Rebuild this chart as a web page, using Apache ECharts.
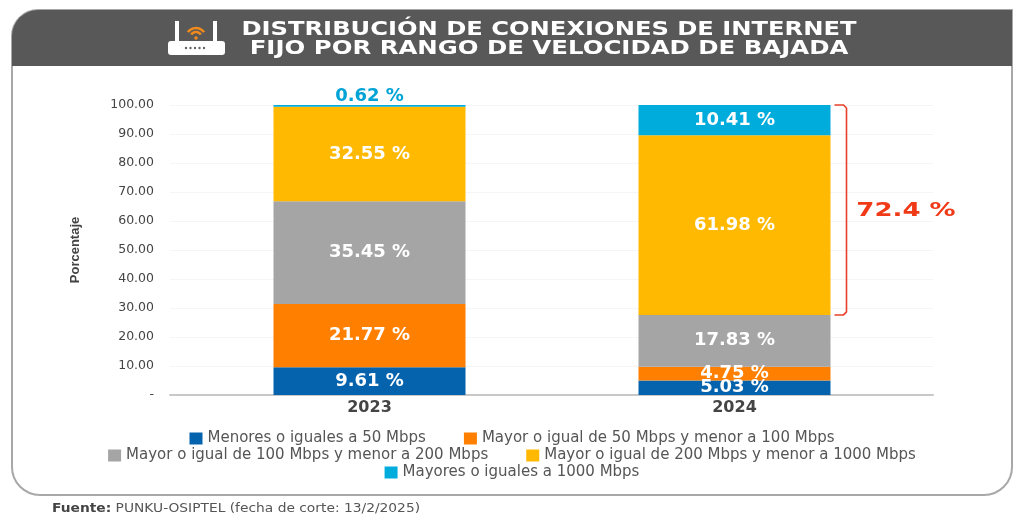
<!DOCTYPE html>
<html lang="es">
<head>
<meta charset="UTF-8">
<title>Distribución de conexiones</title>
<script src="https://cdn.jsdelivr.net/npm/echarts@6/dist/echarts.min.js"></script>
<style>
  html, body { margin: 0; padding: 0; background: #fff; }
  #main { width: 1024px; height: 525px; }
</style>
</head>
<body>
<div id="main"></div>
<script>
var years = ['2023', '2024'];
var seriesNames = [
  'Menores o iguales a 50 Mbps',
  'Mayor o igual de 50 Mbps y menor a 100 Mbps',
  'Mayor o igual de 100 Mbps y menor a 200 Mbps',
  'Mayor o igual de 200 Mbps y menor a 1000 Mbps',
  'Mayores o iguales a 1000 Mbps'
];
var menos50 = [9.61, 5.03];
var de50a100 = [21.77, 4.75];
var de100a200 = [35.45, 17.83];
var de200a1000 = [32.55, 61.98];
var desde1000 = [0.62, 10.41];
var yTicks = ['-', '10.00', '20.00', '30.00', '40.00', '50.00', '60.00', '70.00', '80.00', '90.00', '100.00'];
var colors = ['#0563ad', '#ff7f00', '#a5a5a5', '#ffb900', '#00acdc'];
var bracketTop = 100;
var bracketBottom = 27.61;
var bracketText = '72.4 %';

var FONT = '"DejaVu Sans"';
var chart = echarts.init(document.getElementById('main'));

function barSeries(i, values) {
  return {
    name: seriesNames[i],
    type: 'bar',
    stack: 'total',
    xAxisIndex: 0,
    yAxisIndex: 0,
    barWidth: 192,
    data: values,
    itemStyle: { color: colors[i] },
    label: {
      show: true,
      position: 'inside',
      color: '#fff',
      fontFamily: FONT,
      fontWeight: 'bold',
      fontSize: 18,
      formatter: function (p) { return p.value.toFixed(2) + ' %'; }
    }
  };
}

var series = [
  barSeries(0, menos50),
  barSeries(1, de50a100),
  barSeries(2, de100a200),
  barSeries(3, de200a1000),
  barSeries(4, desde1000)
];
// la etiqueta de 0.62 va encima de la barra, en celeste
series[4].data = [
  { value: desde1000[0], label: { position: 'top', distance: 0, color: '#00a3d6' } },
  desde1000[1]
];

function legendRow(names, top) {
  return {
    data: names,
    top: top,
    left: 'center',
    itemWidth: 13,
    itemHeight: 12,
    itemGap: 38,
    icon: 'rect',
    textStyle: { fontFamily: FONT, fontSize: 15, color: '#555' }
  };
}

chart.setOption({
  animation: false,
  backgroundColor: '#fff',
  // grid 0: barras; grid 1: eje y lineas, algo mas ancho que las barras
  grid: [
    { left: 187, width: 730, top: 105, height: 290 },
    { left: 170, width: 763, top: 105, height: 290 }
  ],
  xAxis: [
    {
      type: 'category', gridIndex: 0, data: years,
      axisTick: { show: false }, axisLine: { show: false },
      axisLabel: { fontFamily: FONT, fontWeight: 'bold', fontSize: 16, color: '#444', margin: 5 }
    },
    {
      type: 'category', gridIndex: 1, data: [],
      axisTick: { show: false }, axisLabel: { show: false },
      axisLine: { lineStyle: { color: '#c8c8c8', width: 2 } }
    }
  ],
  yAxis: [
    { type: 'value', gridIndex: 0, min: 0, max: 100, interval: 10, show: false },
    {
      type: 'value', gridIndex: 1, min: 0, max: 100, interval: 10,
      name: 'Porcentaje',
      nameLocation: 'middle',
      nameGap: 88,
      nameTextStyle: { fontFamily: '"Liberation Sans Narrow", "Liberation Sans"', fontWeight: 'bold', fontSize: 13, color: '#444' },
      axisLine: { show: false },
      axisTick: { show: false },
      axisLabel: {
        fontFamily: FONT, fontSize: 12.5, color: '#444', margin: 16,
        formatter: function (v) { return yTicks[Math.round(v / 10)]; }
      },
      splitLine: { lineStyle: { color: '#f5f5f5', width: 1 } }
    }
  ],
  legend: [
    legendRow(seriesNames.slice(0, 2), 426),
    legendRow(seriesNames.slice(2, 4), 443),
    legendRow(seriesNames.slice(4), 460)
  ],
  series: series
});

// marco, cabecera, icono y pie
var bx = 369.5 + 365 + 96 + 4;
var yTop = chart.convertToPixel({ yAxisIndex: 0 }, bracketTop);
var yBot = chart.convertToPixel({ yAxisIndex: 0 }, bracketBottom);

function wideText(text, x, y, scale, font, fill, align) {
  return {
    type: 'text', z: 5, x: x, y: y, scaleX: scale,
    style: { x: 0, y: 0, text: text, fill: fill, font: font, align: align, verticalAlign: 'middle' }
  };
}

var routerDots = [186, 190.5, 195, 199.5, 204].map(function (cx) {
  return { type: 'circle', z: 6, shape: { cx: cx, cy: 48, r: 1.2 }, style: { fill: '#666' } };
});

chart.setOption({
  graphic: [
    { type: 'rect', z: -10, shape: { x: 12, y: 10, width: 1000, height: 485, r: [26, 0, 28, 28] }, style: { fill: '#fff', stroke: '#a8a8a8', lineWidth: 2 } },
    { type: 'rect', z: -9, shape: { x: 12, y: 10, width: 1000, height: 56, r: [26, 0, 0, 0] }, style: { fill: '#585858' } },
    wideText('DISTRIBUCIÓN DE CONEXIONES DE INTERNET', 549, 30, 1.21, 'bold 20px "DejaVu Sans"', '#fff', 'center'),
    wideText('FIJO POR RANGO DE VELOCIDAD DE BAJADA', 549, 48.5, 1.22, 'bold 20px "DejaVu Sans"', '#fff', 'center'),
    // router
    { type: 'rect', z: 5, shape: { x: 168, y: 41, width: 57, height: 14, r: 3 }, style: { fill: '#fff' } },
    { type: 'rect', z: 5, shape: { x: 175, y: 21, width: 4, height: 22 }, style: { fill: '#fff' } },
    { type: 'rect', z: 5, shape: { x: 213, y: 21, width: 4, height: 22 }, style: { fill: '#fff' } },
    { type: 'arc', z: 5, shape: { cx: 196, cy: 38, r: 10, startAngle: -Math.PI * 0.8, endAngle: -Math.PI * 0.2 }, style: { stroke: '#f08a1d', lineWidth: 2.5, fill: 'none' } },
    { type: 'arc', z: 5, shape: { cx: 196, cy: 38, r: 6, startAngle: -Math.PI * 0.8, endAngle: -Math.PI * 0.2 }, style: { stroke: '#f08a1d', lineWidth: 2.5, fill: 'none' } },
    { type: 'circle', z: 5, shape: { cx: 196, cy: 38, r: 1.8 }, style: { fill: '#f08a1d' } }
  ].concat(routerDots).concat([
    // llave roja
    {
      type: 'polyline', z: 5,
      shape: { points: [[bx, yTop], [bx + 9, yTop], [bx + 12, yTop + 3], [bx + 12, yBot - 3], [bx + 9, yBot], [bx, yBot]] },
      style: { stroke: '#e8402a', lineWidth: 1.6, fill: 'none' }
    },
    wideText(bracketText, 906, 211, 1.3, 'bold 20px "DejaVu Sans"', '#f03a17', 'center'),
    // fuente
    {
      type: 'text', z: 5, x: 52, y: 509, scaleX: 1.2,
      style: {
        x: 0, y: 0, verticalAlign: 'middle',
        text: '{b|Fuente:} PUNKU-OSIPTEL (fecha de corte: 13/2/2025)',
        font: '11.5px "DejaVu Sans"', fill: '#555',
        rich: { b: { font: 'bold 11.5px "DejaVu Sans"', fill: '#444' } }
      }
    }
  ])
});
</script>
</body>
</html>
